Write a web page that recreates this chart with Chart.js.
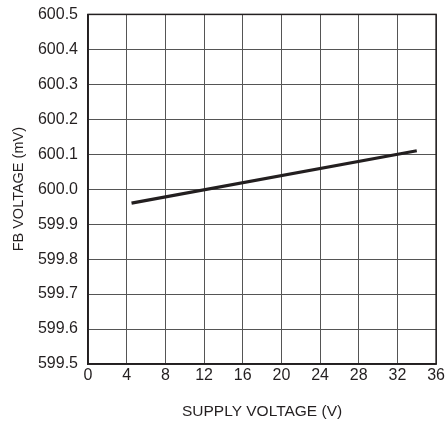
<!DOCTYPE html>
<html><head><meta charset="utf-8">
<script src="https://cdn.jsdelivr.net/npm/chart.js@4/dist/chart.umd.min.js"></script>
<style>html,body{margin:0;padding:0;background:#fff}#wrap{width:447px;height:425px}</style>
</head><body><div id="wrap"><canvas id="c"></canvas></div>
<script>
const supplyVoltage = [4.5, 34];
const fbVoltage = [599.96, 600.11];
const xTicks = [0,4,8,12,16,20,24,28,32,36];
const yTicks = [599.5,599.6,599.7,599.8,599.9,600.0,600.1,600.2,600.3,600.4,600.5];
const FONT = "'Liberation Sans',Arial,sans-serif";
Chart.defaults.font.family = FONT;
Chart.defaults.color = '#231f20';
new Chart(document.getElementById('c'), {
  type: 'scatter',
  data: { datasets: [{
    data: supplyVoltage.map((x,i)=>({x, y: fbVoltage[i]})),
    showLine: true, borderColor: '#231f20', borderWidth: 3.2, pointRadius: 0, tension: 0
  }]},
  options: {
    responsive: true, maintainAspectRatio: false, animation: false,
    layout: { padding: { top: 12, right: 1, left: 0, bottom: 0 } },
    plugins: { legend: { display: false }, tooltip: { enabled: false } },
    scales: {
      x: {
        type: 'linear', min: 0, max: 36,
        afterBuildTicks: s => { s.ticks = xTicks.map(v=>({value:v})); },
        afterFit: s => { s.height = 61; },
        ticks: { font: { size: 16 }, padding: 2, maxRotation: 0, color: '#231f20' },
        grid: { color: '#555', lineWidth: 1, drawTicks: false },
        border: { color: '#231f20', width: 1.5 },
        title: { display: true, text: 'SUPPLY VOLTAGE (V)', font: { size: 15.5 }, color: '#231f20', padding: { top: 10 } }
      },
      y: {
        type: 'linear', min: 599.5, max: 600.5,
        afterBuildTicks: s => { s.ticks = yTicks.map(v=>({value:v})); },
        afterFit: s => { s.width = 88; },
        ticks: { font: { size: 16, lineHeight: 0.55 }, padding: 10, color: '#231f20', callback: v => v.toFixed(1) },
        grid: { color: '#555', lineWidth: 1, drawTicks: false },
        border: { color: '#231f20', width: 1.5 },
        title: { display: true, text: 'FB VOLTAGE (mV)', font: { size: 14.5 }, color: '#231f20', padding: { top: 10, bottom: 0 } }
      }
    }
  },
  plugins: [{
    id: 'frame',
    afterDraw(chart) {
      const {ctx, chartArea: a} = chart;
      ctx.save(); ctx.strokeStyle = '#231f20'; ctx.lineWidth = 1.5;
      ctx.strokeRect(a.left, a.top, a.right - a.left, a.bottom - a.top);
      ctx.restore();
    }
  }]
});
</script></body></html>
